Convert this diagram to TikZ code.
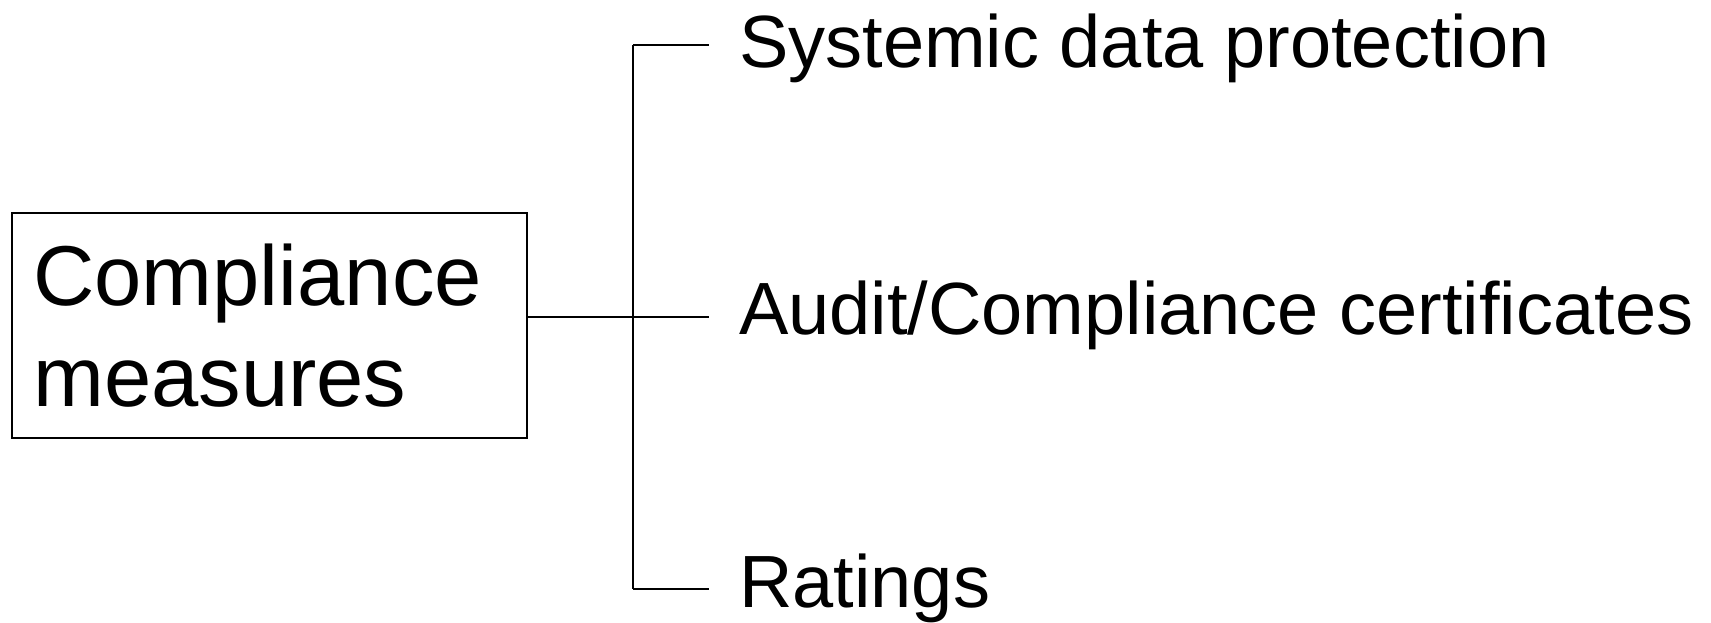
\documentclass[tikz,border=0pt]{standalone}
\usepackage{fontspec}
\setmainfont{Liberation Sans}
\begin{document}
\begin{tikzpicture}[x=1pt,y=-1pt,
  conn/.style={line width=1.6pt, black},
  boxstyle/.style={draw, line width=1.6pt, minimum width=515pt, minimum height=225pt, anchor=north west, inner sep=0pt},
  bigtext/.style={anchor=base west, inner sep=0pt, font=\fontsize{85}{100}\selectfont},
  leaf/.style={anchor=base west, inner xsep=30pt, inner ysep=0pt, font=\fontsize{74}{85}\selectfont}]
\useasboundingbox (0,0) rectangle (1711,622);
\node[boxstyle] (cm) at (10.9,211.9) {};
\node[bigtext] (cmA) at (33,305.5) {Compliance};
\node[bigtext] (cmB) at (33,406) {measures};
\coordinate (jt) at (633,44.7);
\coordinate (jm) at (633,316.7);
\coordinate (jb) at (633,589);
\node[leaf] (t1) at (709,67.7) {Systemic data protection};
\node[leaf] (t2) at (709,334) {Audit/Compliance certificates};
\node[leaf] (t3) at (709,607) {Ratings};
\draw[conn] (jt) -- (jb);
\draw[conn] (cm.east |- jm) -- (jm) -- (t2.west |- jm);
\draw[conn] (jt) -- (t1.west |- jt);
\draw[conn] (jb) -- (t3.west |- jb);
\end{tikzpicture}
\end{document}
